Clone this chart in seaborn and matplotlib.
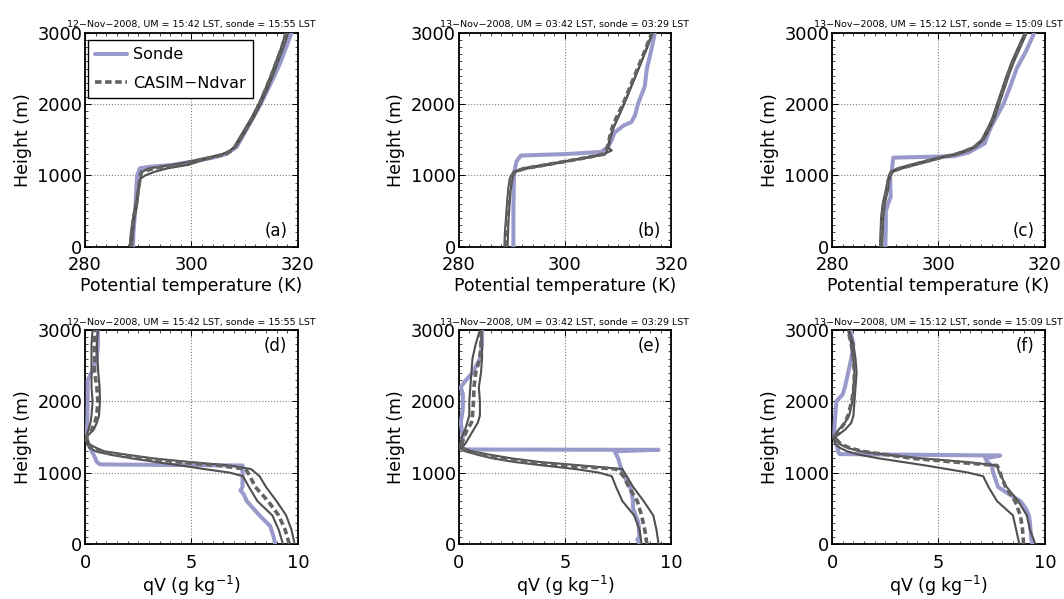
import matplotlib
matplotlib.use('Agg')
import matplotlib.pyplot as plt
import seaborn as sns
from matplotlib.ticker import AutoMinorLocator

# model height levels (m), shared by all model profiles
z_um = [0, 200, 400, 600, 800, 950, 1000, 1050, 1100, 1150, 1200, 1250, 1300,
        1350, 1400, 1500, 1600, 1700, 1800, 2000, 2200, 2400, 2600, 2800, 3000]

# --- potential temperature (K) ---
z_sonde_a = [0, 200, 400, 600, 800, 1000, 1100, 1120, 1150, 1200, 1250, 1300, 1400,
             1600, 1800, 2000, 2200, 2400, 2600, 2800, 3000]
th_sonde_a = [289.0, 289.1, 289.3, 289.5, 289.6, 289.8, 290.3, 292.0, 296.5, 300.5, 304.0,
              306.5, 308.5, 310.0, 311.5, 313.0, 314.3, 315.6, 316.8, 317.8, 318.8]
th_mean_a = [288.6, 288.8, 289.1, 289.6, 290.0, 290.3, 290.4, 290.6, 293.0, 297.5, 300.5, 303.5,
             306.5, 307.5, 308.2, 309.0, 309.8, 310.6, 311.4, 312.8, 313.9, 315.0, 316.0, 317.0, 317.8]
th_lo_a = [288.4, 288.6, 289.0, 289.5, 290.0, 290.3, 291.3, 293.0, 295.5, 299.5, 301.5, 303.8,
           306.0, 307.3, 308.0, 308.8, 309.6, 310.4, 311.2, 312.6, 313.8, 314.9, 315.9, 316.9, 317.7]
th_hi_a = [288.8, 289.0, 289.3, 289.8, 290.1, 290.4, 290.5, 290.7, 292.0, 296.5, 300.0, 303.0,
           305.8, 307.3, 308.3, 309.2, 310.0, 310.8, 311.6, 313.0, 314.2, 315.3, 316.3, 317.3, 318.2]

z_sonde_b = [0, 500, 1000, 1100, 1200, 1280, 1300, 1330, 1400, 1500, 1600, 1700, 1750,
             1850, 2000, 2250, 2500, 2750, 3000]
th_sonde_b = [290.3, 290.3, 290.4, 290.6, 290.9, 291.7, 300.0, 306.8, 308.1, 308.8, 309.3,
              311.0, 312.5, 313.2, 313.7, 315.0, 315.4, 316.2, 316.9]
th_mean_b = [288.9, 289.0, 289.1, 289.3, 289.5, 289.8, 290.1, 290.5, 292.5, 296.5, 300.2, 304.0,
             307.4, 307.7, 308.0, 308.3, 308.6, 309.0, 309.6, 310.9, 312.0, 313.1, 314.2, 315.3, 316.3]
th_lo_b = [288.6, 288.7, 288.9, 289.1, 289.3, 289.6, 289.9, 290.3, 292.0, 296.0, 300.0, 303.8,
           307.2, 308.8, 308.0, 308.4, 308.8, 309.3, 309.9, 311.1, 312.2, 313.3, 314.4, 315.5, 316.5]
th_hi_b = [289.2, 289.3, 289.4, 289.6, 289.8, 290.1, 290.3, 290.7, 293.0, 297.0, 300.6, 304.3,
           307.6, 307.9, 308.2, 308.5, 308.8, 309.3, 309.9, 311.1, 312.2, 313.3, 314.4, 315.4, 316.4]

z_sonde_c = [0, 300, 500, 600, 700, 1000, 1050, 1250, 1270, 1320, 1400, 1450, 1600, 1700,
             2000, 2250, 2500, 2750, 3000]
th_sonde_c = [290.0, 290.1, 290.1, 290.5, 291.0, 290.9, 291.2, 291.5, 302.8, 305.6, 307.5,
              308.7, 309.4, 310.0, 312.2, 313.5, 314.7, 316.5, 318.0]
th_mean_c = [289.2, 289.3, 289.4, 289.7, 290.3, 290.6, 290.8, 291.2, 292.8, 295.2, 297.8, 300.3,
             303.4, 305.3, 306.8, 308.3, 309.0, 309.7, 310.3, 311.2, 312.1, 313.0, 314.0, 315.2, 316.4]
th_lo_c = [289.0, 289.1, 289.2, 289.5, 290.1, 290.5, 290.7, 291.0, 292.3, 294.7, 297.3, 300.0,
           303.0, 305.0, 306.6, 308.1, 308.8, 309.5, 310.1, 311.0, 311.9, 312.8, 313.8, 315.0, 316.2]
th_hi_c = [289.4, 289.5, 289.6, 289.9, 290.5, 290.8, 291.0, 291.4, 293.2, 295.7, 298.3, 300.7,
           303.7, 305.6, 307.0, 308.5, 309.2, 309.9, 310.5, 311.4, 312.3, 313.2, 314.2, 315.4, 316.6]

# --- water vapour mixing ratio (g/kg) ---
z_sonde_d = [0, 100, 250, 400, 500, 600, 700, 750, 800, 1000, 1100, 1115, 1150, 1250, 1400,
             1500, 1700, 2000, 2300, 2400, 2600, 2800, 3000]
qv_sonde_d = [8.93, 8.86, 8.7, 8.2, 7.9, 7.6, 7.45, 7.3, 7.4, 7.4, 7.4, 0.7, 0.55, 0.4, 0.15,
              0.05, 0.1, 0.12, 0.12, 0.3, 0.55, 0.6, 0.6]
qv_mean_d = [9.6, 9.4, 9.1, 8.6, 8.0, 7.75, 7.65, 7.55, 6.3, 4.4, 2.8, 1.6, 0.6, 0.3, 0.15, 0.05,
             0.3, 0.45, 0.55, 0.6, 0.55, 0.45, 0.45, 0.42, 0.45]
qv_lo_d = [9.3, 9.1, 8.8, 8.1, 7.7, 7.42, 6.8, 5.6, 4.5, 3.3, 2.2, 1.2, 0.5, 0.2, 0.1, 0.05,
           0.15, 0.25, 0.3, 0.35, 0.3, 0.3, 0.3, 0.3, 0.35]
qv_hi_d = [9.85, 9.7, 9.45, 9.0, 8.5, 8.2, 8.0, 7.8, 6.8, 4.9, 3.2, 2.0, 0.9, 0.5, 0.2, 0.05,
           0.4, 0.55, 0.65, 0.7, 0.68, 0.62, 0.58, 0.55, 0.6]

z_sonde_e = [0, 60, 100, 300, 500, 600, 770, 1000, 1200, 1300, 1320, 1325, 1350, 1500, 1700,
             1900, 2100, 2200, 2300, 2400, 2600, 2800, 3000]
qv_sonde_e = [8.5, 8.4, 8.5, 8.45, 8.2, 8.2, 8.1, 7.7, 7.5, 7.33, 9.4, 0.2, 0.1, 0.2, 0.1,
              0.2, 0.2, 0.1, 0.35, 0.65, 1.0, 1.1, 1.1]
qv_mean_e = [8.85, 8.75, 8.6, 8.4, 8.0, 7.75, 7.6, 7.4, 5.0, 3.2, 1.9, 1.1, 0.5, 0.1, 0.15, 0.25,
             0.4, 0.6, 0.65, 0.7, 0.72, 0.8, 1.0, 1.05, 1.05]
qv_lo_e = [8.6, 8.5, 8.25, 7.7, 7.4, 7.2, 6.6, 5.5, 4.0, 2.6, 1.6, 0.9, 0.3, 0.05, 0.1, 0.15,
           0.3, 0.4, 0.5, 0.5, 0.55, 0.6, 0.65, 0.8, 1.0]
qv_hi_e = [9.4, 9.3, 9.15, 8.7, 8.2, 7.9, 7.8, 7.7, 5.8, 3.8, 2.5, 1.5, 0.6, 0.15, 0.3, 0.5,
           0.7, 0.9, 1.0, 1.0, 0.95, 1.05, 1.1, 1.1, 1.05]

z_sonde_f = [0, 100, 300, 400, 500, 600, 700, 800, 1000, 1100, 1150, 1200, 1240, 1260, 1280,
             1400, 1500, 1700, 2000, 2100, 2200, 2400, 2600, 2800, 3000]
qv_sonde_f = [9.4, 9.35, 9.3, 9.25, 9.1, 8.85, 8.3, 7.8, 7.57, 7.5, 7.3, 7.2, 7.9, 0.35, 0.3,
              0.2, 0.1, 0.12, 0.2, 0.5, 0.6, 0.75, 0.9, 1.0, 0.85]
qv_mean_f = [9.0, 8.95, 8.85, 8.6, 8.15, 7.95, 7.9, 7.85, 7.75, 5.7, 3.8, 2.6, 1.4, 0.8, 0.4, 0.1,
             0.35, 0.6, 0.75, 0.92, 1.02, 1.05, 1.0, 0.9, 0.75]
qv_lo_f = [8.8, 8.65, 8.5, 7.75, 7.35, 7.1, 6.4, 5.4, 4.4, 3.3, 2.2, 1.3, 0.7, 0.35, 0.15, 0.05,
           0.3, 0.6, 0.8, 0.95, 1.0, 1.05, 1.0, 0.9, 0.75]
qv_hi_f = [9.55, 9.3, 9.15, 8.75, 8.2, 7.95, 7.85, 7.8, 7.75, 6.3, 4.2, 2.6, 1.3, 0.7, 0.35, 0.15,
           0.6, 0.9, 1.0, 1.05, 1.1, 1.15, 1.1, 1.0, 0.8]

titles = ['12\u2212Nov\u22122008, UM = 15:42 LST, sonde = 15:55 LST',
          '13\u2212Nov\u22122008, UM = 03:42 LST, sonde = 03:29 LST',
          '13\u2212Nov\u22122008, UM = 15:12 LST, sonde = 15:09 LST']
letters = ['(a)', '(b)', '(c)', '(d)', '(e)', '(f)']

SONDE_COL = '#9999cc'
MODEL_COL = '#636363'
THIN_COL = '#505050'

sns.set_style('white', rc={'text.color': 'black', 'axes.labelcolor': 'black',
                           'xtick.color': 'black', 'ytick.color': 'black',
                           'xtick.bottom': True, 'ytick.left': True})
plt.rcParams['font.family'] = ['DejaVu Sans']
plt.rcParams['axes.unicode_minus'] = True


def draw_profiles(ax, z_s, x_s, x_mean, x_lo, x_hi):
    sns.lineplot(x=x_s, y=z_s, sort=False, estimator=None, color=SONDE_COL, lw=2.9,
                 label='Sonde', legend=False, ax=ax, zorder=3)
    for vals in (x_lo, x_hi):
        sns.lineplot(x=vals, y=z_um, sort=False, estimator=None, color=THIN_COL, lw=1.5,
                     legend=False, ax=ax, zorder=4)
    sns.lineplot(x=x_mean, y=z_um, sort=False, estimator=None, color=MODEL_COL, lw=2.6,
                 linestyle=(0, (1.8, 1.0)), label='CASIM\u2212Ndvar', legend=False, ax=ax, zorder=5)


fig, axes = plt.subplots(2, 3, figsize=(10.64, 5.99), dpi=100)
fig.subplots_adjust(left=0.08, right=0.982, top=0.945, bottom=0.092, wspace=0.756, hspace=0.39)

theta_sets = [(z_sonde_a, th_sonde_a, th_mean_a, th_lo_a, th_hi_a),
              (z_sonde_b, th_sonde_b, th_mean_b, th_lo_b, th_hi_b),
              (z_sonde_c, th_sonde_c, th_mean_c, th_lo_c, th_hi_c)]
qv_sets = [(z_sonde_d, qv_sonde_d, qv_mean_d, qv_lo_d, qv_hi_d),
           (z_sonde_e, qv_sonde_e, qv_mean_e, qv_lo_e, qv_hi_e),
           (z_sonde_f, qv_sonde_f, qv_mean_f, qv_lo_f, qv_hi_f)]

for i in range(3):
    draw_profiles(axes[0, i], *theta_sets[i])
    draw_profiles(axes[1, i], *qv_sets[i])

for row in range(2):
    for col in range(3):
        ax = axes[row, col]
        ax.set_ylim(0, 3000)
        ax.set_yticks([0, 1000, 2000, 3000])
        if row == 0:
            ax.set_xlim(280, 320)
            ax.set_xticks([280, 300, 320])
            ax.set_xlabel('Potential temperature (K)', fontsize=12.5, labelpad=2)
            ax.text(0.95, 0.03, letters[col], transform=ax.transAxes, ha='right', va='bottom', fontsize=12)
        else:
            ax.set_xlim(0, 10)
            ax.set_xticks([0, 5, 10])
            ax.set_xlabel('qV (g kg$^{-1}$)', fontsize=12.5, labelpad=2)
            ax.text(0.95, 0.97, letters[3 + col], transform=ax.transAxes, ha='right', va='top', fontsize=12)
        ax.set_ylabel('Height (m)', fontsize=12.5)
        ax.set_title(titles[col], fontsize=6.8, pad=4)
        ax.xaxis.set_minor_locator(AutoMinorLocator(10))
        ax.yaxis.set_minor_locator(AutoMinorLocator(10))
        ax.tick_params(which='both', direction='in', bottom=True, left=True, top=True, right=True,
                       labelsize=12.8, color='black')
        ax.tick_params(which='major', length=4, width=0.7)
        ax.tick_params(which='minor', length=2, width=0.5)
        ax.tick_params(axis='y', pad=2)
        ax.tick_params(axis='x', pad=7)
        ax.grid(True, which='major', linestyle=':', color='#808080', lw=0.8)
        ax.set_axisbelow(True)
        for sp in ax.spines.values():
            sp.set_color('black')
            sp.set_linewidth(1.3)

leg = axes[0, 0].legend(loc='upper left', bbox_to_anchor=(0.014, 0.967), borderaxespad=0,
                        fontsize=11.5, handlelength=2.0, handletextpad=0.35, borderpad=0.45,
                        labelspacing=0.85, fancybox=False, framealpha=1, edgecolor='black')
leg.get_frame().set_linewidth(1.0)

fig.savefig('out.png', dpi=100)
